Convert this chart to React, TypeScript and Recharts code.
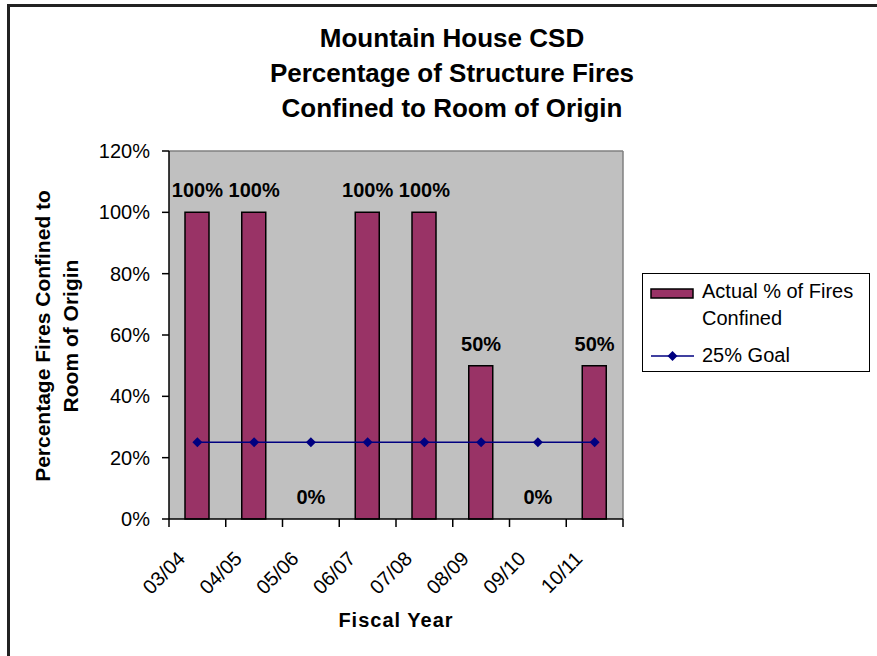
import React from 'react';
import { ComposedChart, Bar, Line, XAxis, YAxis, CartesianGrid, LabelList, Label } from 'recharts';

const years = ['03/04', '04/05', '05/06', '06/07', '07/08', '08/09', '09/10', '10/11'];
const actualPct = [100, 100, 0, 100, 100, 50, 0, 50];
const goalPct = [25, 25, 25, 25, 25, 25, 25, 25];
const yTicks = [0, 20, 40, 60, 80, 100, 120];

const titleLines = ['Mountain House CSD', 'Percentage of Structure Fires', 'Confined to Room of Origin'];
const yTitleLines = ['Percentage Fires Confined to', 'Room of Origin'];
const xTitle = 'Fiscal Year';
const barName = 'Actual % of Fires Confined';
const lineName = '25% Goal';

const FONT = '"Liberation Sans", Arial, Helvetica, sans-serif';
const BAR_FILL = '#993366';
const LINE_COLOR = '#000080';
const PLOT_BG = '#C0C0C0';

const W = 877;
const H = 656;
const MARGIN = { top: 151, right: 254, bottom: 37, left: 109 };
const Y_AXIS_W = 60;
const X_AXIS_H = 100;
const PLOT_LEFT = MARGIN.left + Y_AXIS_W;
const PLOT_W = W - PLOT_LEFT - MARGIN.right;
const PLOT_H = H - MARGIN.top - MARGIN.bottom - X_AXIS_H;
const BAND = PLOT_W / years.length;

const data = years.map((year, i) => ({
  year,
  actual: actualPct[i],
  goal: goalPct[i],
}));

function Diamond(props: any) {
  const { cx, cy } = props;
  if (cx == null || cy == null) return null;
  const r = 5;
  return (
    <polygon
      points={`${cx},${cy - r} ${cx + r},${cy} ${cx},${cy + r} ${cx - r},${cy}`}
      fill={LINE_COLOR}
    />
  );
}

function YearTick(props: any) {
  const { x, y, payload, index } = props;
  const left = x - BAND / 2;
  const tx = x - 11;
  const ty = y + 41;
  return (
    <g>
      <line x1={left} y1={y} x2={left} y2={y + 8} stroke="#000" strokeWidth={1.5} />
      {index === years.length - 1 && (
        <line x1={x + BAND / 2} y1={y} x2={x + BAND / 2} y2={y + 8} stroke="#000" strokeWidth={1.5} />
      )}
      <text
        x={tx}
        y={ty}
        transform={`rotate(-45, ${tx}, ${ty})`}
        textAnchor="end"
        fontSize={20}
        fontFamily={FONT}
        fill="#000"
      >
        {payload.value}
      </text>
    </g>
  );
}

function YTitle() {
  const cy = MARGIN.top + PLOT_H / 2 + 1;
  const xs = [50, 78];
  return (
    <g>
      {yTitleLines.map((line, i) => (
        <text
          key={line}
          x={xs[i]}
          y={cy}
          transform={`rotate(-90, ${xs[i]}, ${cy})`}
          textAnchor="middle"
          fontSize={21}
          fontWeight="bold"
          fontFamily={FONT}
          fill="#000"
        >
          {line}
        </text>
      ))}
    </g>
  );
}

function XTitle() {
  return (
    <text
      x={PLOT_LEFT + PLOT_W / 2}
      y={MARGIN.top + PLOT_H + 108}
      textAnchor="middle"
      fontSize={20}
      fontWeight="bold"
      fontFamily={FONT}
      letterSpacing={1}
      fill="#000"
    >
      {xTitle}
    </text>
  );
}

function ChartLegend() {
  return (
    <div
      style={{
        position: 'absolute',
        left: 642,
        top: 273,
        width: 228,
        height: 99,
        border: '1px solid #000',
        boxSizing: 'border-box',
        background: '#fff',
        fontFamily: FONT,
        fontSize: 20,
        color: '#000',
      }}
    >
      <svg style={{ position: 'absolute', left: 7, top: 14 }} width={45} height={11}>
        <rect x={1} y={1} width={42} height={9} fill={BAR_FILL} stroke="#000" strokeWidth={1.5} />
      </svg>
      <div style={{ position: 'absolute', left: 59, top: 4, width: 165, lineHeight: '27px' }}>{barName}</div>
      <svg style={{ position: 'absolute', left: 7, top: 75 }} width={45} height={14}>
        <line x1={1} y1={7} x2={44} y2={7} stroke={LINE_COLOR} strokeWidth={1.5} />
        <Diamond cx={22.5} cy={7} />
      </svg>
      <div style={{ position: 'absolute', left: 59, top: 68, lineHeight: '27px' }}>{lineName}</div>
    </div>
  );
}

export default function App() {
  return (
    <div style={{ position: 'absolute', left: 0, top: 0, width: W, height: H, background: '#fff' }}>
      <div
        style={{
          position: 'absolute',
          left: 7,
          top: 4,
          right: 0,
          bottom: 0,
          borderTop: '3px solid #222',
          borderLeft: '3px solid #222',
        }}
      />
      <svg style={{ position: 'absolute', left: 0, top: 0 }} width={W} height={130}>
        {titleLines.map((line, i) => (
          <text
            key={line}
            x={452}
            y={47 + i * 35}
            textAnchor="middle"
            fontSize={26}
            fontWeight="bold"
            fontFamily={FONT}
            fill="#000"
          >
            {line}
          </text>
        ))}
      </svg>
      <div style={{ position: 'absolute', left: 0, top: 0 }}>
        <ComposedChart width={W} height={H} data={data} margin={MARGIN}>
          <CartesianGrid
            fill={PLOT_BG}
            stroke="#808080"
            strokeWidth={1.5}
            horizontalCoordinatesGenerator={({ offset }: any) => [offset.top]}
            verticalCoordinatesGenerator={({ offset }: any) => [offset.left + offset.width]}
          />
          <XAxis
            dataKey="year"
            height={X_AXIS_H}
            interval={0}
            tickLine={false}
            tickSize={0}
            tickMargin={0}
            axisLine={{ stroke: '#000', strokeWidth: 1.5 }}
            tick={<YearTick />}
          >
            <Label content={<XTitle />} />
          </XAxis>
          <YAxis
            width={Y_AXIS_W}
            domain={[0, 120]}
            ticks={yTicks}
            interval={0}
            tickFormatter={(v: number) => `${v}%`}
            tick={{ fill: '#000', fontSize: 20, fontFamily: FONT }}
            tickSize={7}
            tickMargin={12}
            tickLine={{ stroke: '#000', strokeWidth: 1.5 }}
            axisLine={{ stroke: '#000', strokeWidth: 1.5 }}
          >
            <Label content={<YTitle />} />
          </YAxis>
          <Bar
            dataKey="actual"
            name={barName}
            fill={BAR_FILL}
            stroke="#000"
            strokeWidth={1.5}
            barSize={24}
            isAnimationActive={false}
          />
          <Line
            dataKey="goal"
            name={lineName}
            stroke={LINE_COLOR}
            strokeWidth={1.5}
            dot={<Diamond />}
            activeDot={false}
            isAnimationActive={false}
          />
          {/* invisible carrier for the value labels so 0% bars get one too */}
          <Line
            dataKey="actual"
            legendType="none"
            stroke="none"
            dot={false}
            activeDot={false}
            isAnimationActive={false}
          >
            <LabelList
              dataKey="actual"
              position="top"
              offset={15}
              formatter={(v: any) => `${v}%`}
              fill="#000"
              fontSize={20}
              fontWeight="bold"
              fontFamily={FONT}
            />
          </Line>
        </ComposedChart>
      </div>
      <ChartLegend />
    </div>
  );
}
